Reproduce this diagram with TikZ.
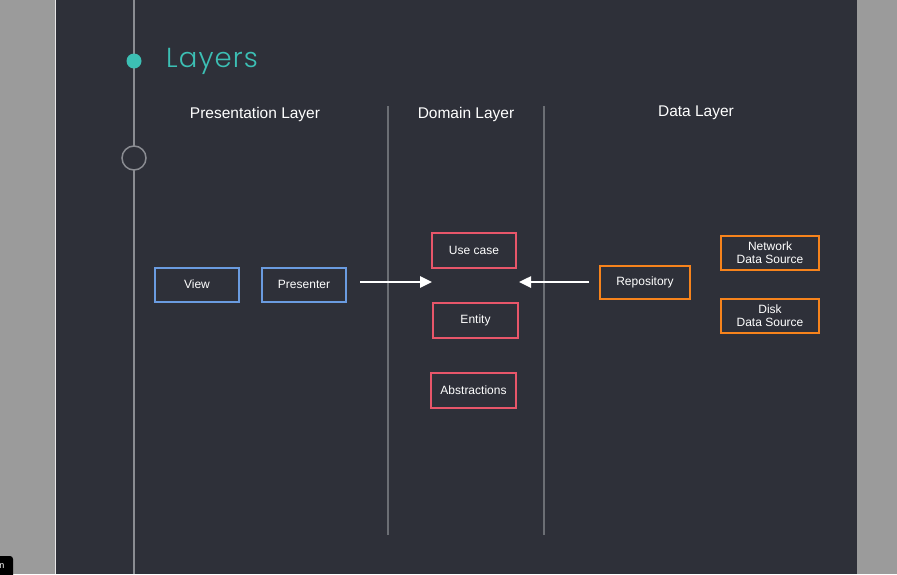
\documentclass[tikz,border=0pt]{standalone}
\usepackage{fontspec}
\setmainfont{Liberation Sans}
\newfontfamily\titlefont[LetterSpace=4]{Poppins Light}
\usetikzlibrary{arrows.meta}
\definecolor{outerbg}{HTML}{9B9B9B}
\definecolor{panelbg}{HTML}{2E3039}
\definecolor{tlgray}{HTML}{8A8C92}
\definecolor{divgray}{HTML}{6B6E74}
\definecolor{teal}{HTML}{3CBFB4}
\definecolor{bluebox}{HTML}{6A9BE0}
\definecolor{redbox}{HTML}{E8566A}
\definecolor{orangebox}{HTML}{F7831C}
\tikzset{
  box/.style={draw, line width=2pt, inner sep=0pt, text=white,
    font=\fontsize{12}{13.5}\selectfont, align=center},
  pbox/.style={box, draw=bluebox, minimum width=84, minimum height=34},
  dbox/.style={box, draw=redbox, minimum width=85, minimum height=35},
  obox/.style={box, draw=orangebox},
  header/.style={anchor=base, text=white, font=\fontsize{15.5}{18}\selectfont},
  divider/.style={draw=divgray, line width=2.5pt},
  flow/.style={draw=white, line width=2.5pt, -{Triangle[length=12pt,width=11pt]}}
}
\begin{document}
\begin{tikzpicture}[x=1pt,y=-1pt]
\useasboundingbox (0,0) rectangle (897,574);
\fill[outerbg] (0,0) rectangle (897,574);
\fill[panelbg] (55,0) rectangle (857,574);
\draw[white!75!outerbg, line width=0.8pt] (55,0) -- (55,574);
% small black badge bottom-left
\node[fill=black, rounded corners=3pt, minimum width=20, minimum height=24, inner sep=0pt] (badge) at (3,568) {};
\node[text=white, font=\fontsize{9}{10}\selectfont, inner sep=0pt] (badgetxt) at (2,566) {n};
% timeline
\coordinate (tltop) at (134,0);
\coordinate (tlbot) at (134,574);
\draw[tlgray, line width=1.5pt] (tltop) -- (tlbot);
\node[circle, fill=teal, minimum size=15, inner sep=0pt] (dot) at (134,61) {};
\node[circle, draw=tlgray, fill=panelbg, line width=1.5pt, minimum size=24, inner sep=0pt] (ring) at (134,158) {};
\node[anchor=base west, text=teal, inner sep=0pt, font=\titlefont\fontsize{27.5}{30}\selectfont] (title) at (166,67) {Layers};
% headers
\node[header] (hpres) at (255,118) {Presentation Layer};
\node[header] (hdom) at (466,118) {Domain Layer};
\node[header] (hdata) at (696,116) {Data Layer};
% dividers
\coordinate (d1t) at (388,106); \coordinate (d1b) at (388,535);
\coordinate (d2t) at (544,106); \coordinate (d2b) at (544,535);
\draw[divider] (d1t) -- (d1b);
\draw[divider] (d2t) -- (d2b);
% presentation
\node[pbox] (view) at (197,284.5) {View};
\node[pbox] (presenter) at (304,284.5) {Presenter};
% domain
\node[dbox, minimum width=84] (usecase) at (474,250) {Use case};
\node[dbox] (entity) at (475.5,320) {Entity};
\node[dbox] (abstr) at (473.5,390) {Abstractions};
% data
\node[obox, minimum width=90, minimum height=33] (repo) at (645,282) {Repository};
\node[obox, minimum width=98, minimum height=34] (network) at (770,252.5) {Network\\Data Source};
\node[obox, minimum width=98, minimum height=34] (disk) at (770,315.5) {Disk\\Data Source};
% arrows
\coordinate (a1s) at (360,282); \coordinate (a1e) at (432,282);
\coordinate (a2s) at (589,282); \coordinate (a2e) at (519,282);
\draw[flow] (a1s) -- (a1e);
\draw[flow] (a2s) -- (a2e);
\end{tikzpicture}
\end{document}
